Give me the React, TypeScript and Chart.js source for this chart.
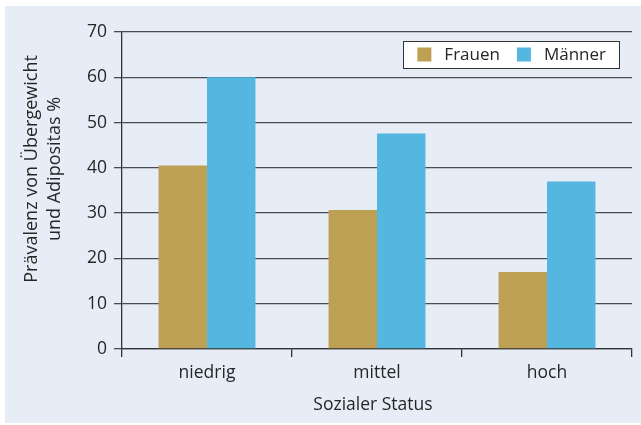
import React, { useEffect, useRef } from "react";
import { Chart, registerables } from "chart.js";

Chart.register(...registerables);

const categories = ["niedrig", "mittel", "hoch"];
const seriesNames = ["Frauen", "Männer"];
const frauen = [40.5, 30.7, 17.0];
const maenner = [60.0, 47.6, 37.0];
const yTicks = [0, 10, 20, 30, 40, 50, 60, 70];
const colors = ["#bea055", "#53b7e0"];
const xTitle = "Sozialer Status";
const yTitle = ["Prävalenz von Übergewicht", "und Adipositas %"];

const FONT = "'Open Sans', 'Noto Sans', sans-serif";
const TEXT = "#262626";

const overlay = {
  id: "overlay",
  afterDraw(chart: any) {
    const ctx = chart.ctx;
    const ca = chart.chartArea;
    ctx.save();
    // y title
    ctx.fillStyle = TEXT;
    ctx.font = `18px ${FONT}`;
    ctx.textAlign = "center";
    ctx.textBaseline = "middle";
    const cy = ca.top + (ca.bottom - ca.top) * 0.432;
    ctx.save();
    ctx.translate(32, cy);
    ctx.rotate(-Math.PI / 2);
    ctx.fillText(yTitle[0], 0, 0);
    ctx.fillText(yTitle[1], 0, 23);
    ctx.restore();
    // x title
    ctx.font = `17.5px ${FONT}`;
    ctx.fillText(xTitle, (ca.left + ca.right) / 2 - 4, 405);
    // legend
    ctx.font = `17px ${FONT}`;
    const w0 = ctx.measureText(seriesNames[0]).width;
    const w1 = ctx.measureText(seriesNames[1]).width;
    const pad = 14, sq = 14, gap = 13, between = 17, rpad = 13;
    const boxW = pad + sq + gap + w0 + between + sq + gap + w1 + rpad;
    const boxR = ca.right - 13;
    const boxL = boxR - boxW;
    const boxT = ca.top + 9;
    const boxH = 27;
    ctx.fillStyle = "#ffffff";
    ctx.fillRect(boxL, boxT, boxW, boxH);
    ctx.strokeStyle = "#333333";
    ctx.lineWidth = 1;
    ctx.strokeRect(Math.round(boxL) + 0.5, Math.round(boxT) + 0.5, Math.round(boxW), boxH);
    let x = boxL + pad;
    const my = boxT + boxH / 2;
    const items = [
      { name: seriesNames[0], w: w0, c: colors[0] },
      { name: seriesNames[1], w: w1, c: colors[1] },
    ];
    items.forEach((it, i) => {
      ctx.fillStyle = it.c;
      ctx.fillRect(x, my - sq / 2, sq, sq);
      x += sq + gap;
      ctx.fillStyle = TEXT;
      ctx.textAlign = "left";
      ctx.fillText(it.name, x, my + 0.5);
      x += it.w + (i === 0 ? between : 0);
    });
    ctx.restore();
  },
};

export default function App() {
  const ref = useRef<HTMLCanvasElement>(null);
  useEffect(() => {
    if (!ref.current) return;
    const chart = new Chart(ref.current, {
      type: "bar",
      data: {
        labels: categories,
        datasets: [
          { label: seriesNames[0], data: frauen, backgroundColor: colors[0], borderWidth: 0 },
          { label: seriesNames[1], data: maenner, backgroundColor: colors[1], borderWidth: 0 },
        ],
      },
      options: {
        animation: false,
        responsive: false,
        maintainAspectRatio: false,
        layout: { padding: { left: 0, top: 32, right: 9, bottom: 0 } },
        plugins: { legend: { display: false }, tooltip: { enabled: false } },
        datasets: { bar: { categoryPercentage: 0.57, barPercentage: 1.0 } },
        scales: {
          x: {
            offset: true,
            grid: {
              display: true,
              offset: true,
              drawOnChartArea: false,
              drawTicks: true,
              tickLength: 8,
              color: "#333333",
              lineWidth: 1.3,
            },
            border: { display: true, color: "#333333", width: 1.3 },
            ticks: { color: TEXT, font: { family: FONT, size: 17.5 }, padding: 6 },
            afterFit: (s: any) => { s.height = 76; },
          },
          y: {
            min: 0,
            max: 70,
            afterBuildTicks: (s: any) => { s.ticks = yTicks.map((v) => ({ value: v })); },
            grid: {
              color: "#4a4a52",
              lineWidth: 1.3,
              drawTicks: true,
              tickLength: 8,
            },
            border: { display: true, color: "#333333", width: 1.3 },
            ticks: { color: TEXT, font: { family: FONT, size: 17.5 }, padding: 7 },
            afterFit: (s: any) => { s.width = 122; },
          },
        },
      },
      plugins: [overlay],
    });
    return () => chart.destroy();
  }, []);
  return (
    <div style={{ position: "absolute", left: 0, top: 0, width: 641, height: 425, background: "#ffffff" }}>
      <div style={{ position: "absolute", left: 5, top: 6, width: 636, height: 417, background: "#e7edf7" }} />
      <canvas ref={ref} width={641} height={425} style={{ position: "absolute", left: 0, top: 0 }} />
    </div>
  );
}
